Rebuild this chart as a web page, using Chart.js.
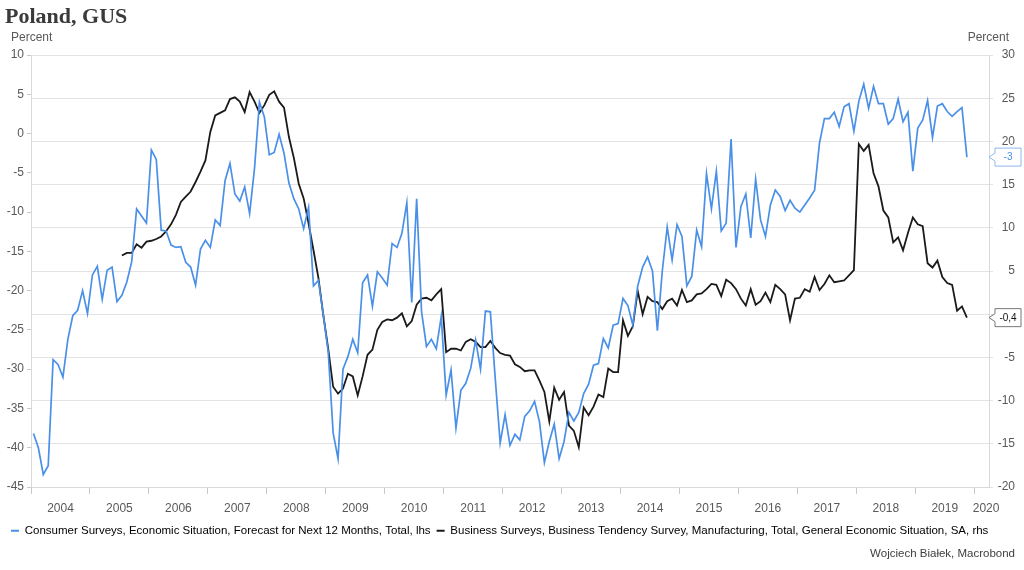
<!DOCTYPE html>
<html>
<head>
<meta charset="utf-8">
<title>Poland, GUS</title>
<script src="https://cdn.jsdelivr.net/npm/chart.js@4.4.1/dist/chart.umd.min.js"></script>
<style>
  html, body { margin: 0; padding: 0; background: #fff; }
  #wrap { width: 1024px; height: 570px; }
</style>
</head>
<body>
<div id="wrap"><canvas id="chart" width="1024" height="570"></canvas></div>
<script>
// Poland, GUS: consumer vs business sentiment (monthly)

// consumer series starts Jan 2004, business series starts Jul 2005
const startYear = 2004;
const businessStart = 18;

// Consumer Surveys, Economic Situation, Forecast for Next 12 Months (lhs)
const consumer = [
  -38.2, -40.0, -43.4, -42.3, -28.8, -29.4, -31.0, -26.2, -23.2, -22.5, -20.0, -22.9,
  -18.0, -16.9, -21.1, -17.4, -17.0, -21.4, -20.6, -18.9, -16.3, -9.6, -10.5, -11.4,
  -2.1, -3.3, -12.3, -12.4, -14.2, -14.5, -14.4, -16.4, -17.0, -19.3, -14.7, -13.6,
  -14.5, -11.0, -11.7, -6.0, -3.8, -7.7, -8.6, -6.8, -10.2, -4.4, 4.0, 2.1,
  -2.7, -2.4, -0.1, -2.5, -6.3, -8.3, -9.6, -12.1, -9.4, -19.4, -18.7, -23.1,
  -27.8, -38.1, -41.4, -30.0, -28.4, -26.2, -27.9, -19.0, -18.0, -22.0, -17.6, -18.4,
  -19.3, -14.0, -14.5, -12.7, -8.8, -21.5, -8.3, -22.7, -27.1, -26.2, -27.4, -23.3,
  -33.3, -30.1, -37.5, -32.7, -31.8, -29.9, -26.3, -30.0, -22.6, -22.7, -31.2, -39.4,
  -35.8, -39.7, -38.3, -39.0, -36.0, -35.3, -34.1, -36.7, -41.9, -39.2, -37.0, -41.4,
  -39.2, -35.5, -36.6, -35.5, -33.1, -31.9, -29.5, -29.3, -26.1, -27.3, -24.4, -24.2,
  -21.0, -21.9, -24.4, -19.4, -17.0, -15.7, -17.5, -25.1, -17.5, -11.9, -16.1, -11.6,
  -13.1, -19.4, -18.2, -12.3, -14.4, -5.1, -9.6, -4.8, -12.4, -11.4, -0.7, -14.5,
  -9.3, -7.7, -13.3, -5.8, -11.0, -13.1, -9.1, -7.2, -8.0, -9.8, -8.5, -9.5,
  -10.0, -9.1, -8.2, -7.2, -1.2, 1.9, 1.9, 2.7, 0.9, 3.4, 3.8, 0.3,
  4.1, 6.3, 3.2, 6.0, 3.8, 3.8, 1.2, 1.9, 4.4, 1.5, 2.7, -4.8,
  0.7, 1.7, 4.2, -0.5, 3.5, 3.8, 2.8, 2.2, 2.8, 3.3, -3.0
];

// Business Tendency Survey, Manufacturing, General Economic Situation, SA (rhs)
const business = [
  6.8, 7.1, 7.1, 8.1, 7.7, 8.4,
  8.5, 8.7, 9.0, 9.6, 10.4, 11.5, 13.0, 13.6, 14.2, 15.3, 16.5, 17.8,
  21.1, 23.0, 23.3, 23.6, 24.9, 25.1, 24.6, 23.4, 25.7, 24.6, 23.3, 24.2,
  25.4, 25.8, 24.6, 23.9, 20.5, 18.1, 15.1, 13.4, 10.5, 7.4, 4.2, -0.1,
  -4.0, -8.4, -9.2, -8.6, -6.9, -7.2, -9.4, -7.2, -4.7, -4.1, -1.8, -0.9,
  -0.6, -0.7, -0.4, 0.1, -1.4, -0.8, 1.1, 1.8, 1.9, 1.6, 2.3, 2.9,
  -4.4, -4.0, -4.0, -4.2, -3.2, -2.9, -3.2, -3.8, -3.8, -3.1, -3.9, -4.5,
  -4.7, -4.8, -5.8, -6.1, -6.6, -6.5, -6.5, -7.7, -9.0, -12.4, -8.5, -9.9,
  -9.0, -12.9, -13.5, -15.4, -10.8, -11.7, -10.7, -9.3, -9.6, -6.3, -6.7, -6.7,
  -0.7, -2.5, -1.4, 2.7, 0.0, 2.0, 1.5, 1.4, 0.6, 1.5, 1.8, 1.0,
  2.8, 1.4, 1.6, 2.3, 2.4, 2.9, 3.5, 3.4, 2.1, 4.0, 3.6, 2.9,
  1.8, 1.0, 2.9, 1.1, 1.5, 2.5, 1.4, 3.4, 2.9, 2.3, -0.7, 1.8,
  1.9, 2.9, 2.6, 4.3, 2.8, 3.5, 4.5, 3.7, 3.8, 3.9, 4.5, 5.1,
  19.7, 18.9, 19.6, 16.3, 14.8, 12.0, 11.2, 8.3, 8.9, 7.4, 9.4, 11.2,
  10.4, 10.2, 5.9, 5.4, 6.2, 4.3, 3.6, 3.4, 0.4, 0.9, -0.4
];

const yearLabels = ['2004', '2005', '2006', '2007', '2008', '2009', '2010', '2011',
  '2012', '2013', '2014', '2015', '2016', '2017', '2018', '2019', '2020'];

const legendLabels = [
  'Consumer Surveys, Economic Situation, Forecast for Next 12 Months, Total, lhs',
  'Business Surveys, Business Tendency Survey, Manufacturing, Total, General Economic Situation, SA, rhs'
];

const blue = '#4a90e8';
const dark = '#1a1a1a';
const xMin = 2004, xMax = 2020.25;

function monthX(i) {
    return startYear + (i + 0.5) / 12;
}

const consumerPts = consumer.map((v, i) => ({ x: monthX(i), y: v }));
const businessPts = business.map((v, i) => ({ x: monthX(i + businessStart), y: v }));

function fmt(v) {
    return String(Math.round(v * 10) / 10).replace('.', ',');
}

// end-value boxes and the "Percent" captions
const extras = {
    id: 'extras',
    afterDraw(chart) {
        const c = chart.ctx;
        const area = chart.chartArea;
        c.save();
        c.font = '12px "Liberation Sans", Arial, sans-serif';
        c.fillStyle = '#595959';
        c.textBaseline = 'middle';
        c.textAlign = 'left';
        c.fillText('Percent', 11, 38);
        c.textAlign = 'right';
        c.fillText('Percent', 1009, 38);

        const tag = (y, text, stroke, color) => {
            const tip = area.right, x0 = tip + 6, w = 26, h = 18;
            c.beginPath();
            c.moveTo(tip, y);
            c.lineTo(x0, y - 4);
            c.lineTo(x0, y - h / 2);
            c.lineTo(x0 + w, y - h / 2);
            c.lineTo(x0 + w, y + h / 2);
            c.lineTo(x0, y + h / 2);
            c.lineTo(x0, y + 4);
            c.closePath();
            c.fillStyle = '#fff';
            c.fill();
            c.strokeStyle = stroke;
            c.lineWidth = 1;
            c.stroke();
            c.font = '10px "Liberation Sans", Arial, sans-serif';
            c.fillStyle = color;
            c.textAlign = 'center';
            c.fillText(text, x0 + w / 2, y + 0.5);
        };
        const lastC = consumer[consumer.length - 1];
        const lastB = business[business.length - 1];
        tag(chart.scales.yL.getPixelForValue(lastC), fmt(lastC), '#8db8ef', blue);
        tag(chart.scales.yR.getPixelForValue(lastB), fmt(lastB), '#777', '#111');
        c.restore();
    }
};

Chart.defaults.font.family = '"Liberation Sans", Arial, sans-serif';
Chart.defaults.color = '#595959';

const ctx = document.getElementById('chart').getContext('2d');
new Chart(ctx, {
    type: 'line',
    data: {
        datasets: [
            {
                label: legendLabels[0],
                data: consumerPts,
                xAxisID: 'x',
                yAxisID: 'yL',
                borderColor: blue,
                backgroundColor: blue,
                borderWidth: 1.7,
                pointRadius: 0,
                tension: 0
            },
            {
                label: legendLabels[1],
                data: businessPts,
                xAxisID: 'x',
                yAxisID: 'yR',
                borderColor: dark,
                backgroundColor: dark,
                borderWidth: 1.8,
                pointRadius: 0,
                tension: 0
            }
        ]
    },
    options: {
        responsive: false,
        animation: false,
        events: [],
        layout: { padding: { left: 5, right: 9, top: 0, bottom: 0 } },
        plugins: {
            tooltip: { enabled: false },
            title: {
                display: true,
                text: 'Poland, GUS',
                align: 'start',
                color: '#3a3a3a',
                font: { family: '"Liberation Serif", "DejaVu Serif", serif', size: 22, weight: 'bold' },
                padding: { top: 4, bottom: 24.6 }
            },
            subtitle: {
                display: true,
                position: 'bottom',
                align: 'end',
                text: 'Wojciech Białek, Macrobond',
                color: '#404040',
                font: { size: 11.5 },
                padding: { top: 0, bottom: 9.7 }
            },
            legend: {
                position: 'bottom',
                align: 'start',
                labels: {
                    color: '#404040',
                    font: { size: 11.5 },
                    padding: 6,
                    boxWidth: 8,
                    usePointStyle: true,
                    pointStyleWidth: 8,
                    generateLabels(chart) {
                        return chart.data.datasets.map((ds, i) => ({
                            text: ds.label,
                            fillStyle: ds.borderColor,
                            strokeStyle: ds.borderColor,
                            lineWidth: 2,
                            pointStyle: 'line',
                            hidden: false,
                            datasetIndex: i
                        }));
                    }
                }
            }
        },
        scales: {
            x: {
                type: 'linear',
                position: 'bottom',
                weight: 0,
                min: xMin,
                max: xMax,
                afterBuildTicks(s) {
                    s.ticks = yearLabels.map(y => ({ value: +y }));
                },
                ticks: { display: false },
                grid: { drawOnChartArea: false, drawTicks: true, tickLength: 7, color: '#c8c8c8' },
                border: { display: true, color: '#d9d9d9' },
                afterFit(s) { s.height = 7; }
            },
            xl: {
                type: 'linear',
                position: 'bottom',
                weight: 1,
                min: xMin,
                max: xMax,
                afterBuildTicks(s) {
                    const n = yearLabels.length;
                    s.ticks = yearLabels.map((y, i) => ({
                        value: i < n - 1 ? +y + 0.5 : +y + 0.2
                    }));
                },
                ticks: {
                    autoSkip: false,
                    maxRotation: 0,
                    padding: 7.5,
                    font: { size: 12 },
                    callback: (v, i) => yearLabels[i]
                },
                grid: { display: false, drawTicks: false },
                border: { display: false },
                afterFit(s) { s.height = 25; }
            },
            yL: {
                type: 'linear',
                position: 'left',
                min: -45,
                max: 10,
                ticks: { stepSize: 5, padding: 3, font: { size: 12 } },
                grid: { drawOnChartArea: false, drawTicks: true, tickLength: 4, color: '#c8c8c8' },
                border: { display: true, color: '#d9d9d9' },
                afterFit(s) { s.width = 26; }
            },
            yR: {
                type: 'linear',
                position: 'right',
                min: -20,
                max: 30,
                ticks: { stepSize: 5, padding: 3, crossAlign: 'far', font: { size: 12 } },
                grid: { drawOnChartArea: true, drawTicks: true, tickLength: 4, color: '#e3e3e3' },
                border: { display: true, color: '#d9d9d9' },
                afterFit(s) { s.width = 26; }
            }
        }
    },
    plugins: [extras]
});
</script>
</body>
</html>
